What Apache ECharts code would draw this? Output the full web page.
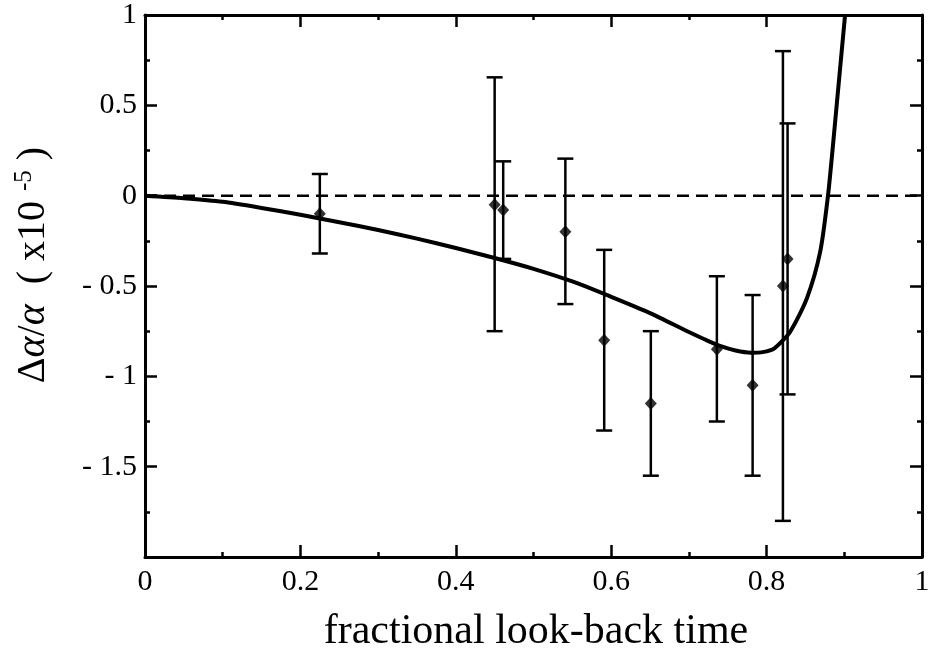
<!DOCTYPE html>
<html>
<head>
<meta charset="utf-8">
<script src="https://cdn.jsdelivr.net/npm/echarts@6/dist/echarts.min.js"></script>
<style>
html,body{margin:0;padding:0;background:#fff;}
#chart{width:933px;height:656px;}
</style>
</head>
<body>
<div id="chart"></div>
<script>
// ---- data ----
const lookback = [0.225, 0.450, 0.461, 0.541, 0.591, 0.651, 0.736, 0.782, 0.821, 0.827];
const dAlpha   = [-0.10, -0.05, -0.08, -0.20, -0.80, -1.15, -0.85, -1.05, -0.50, -0.35];
const errLow   = [-0.32, -0.75, -0.35, -0.60, -1.30, -1.55, -1.25, -1.55, -1.80, -1.10];
const errHigh  = [0.12, 0.655, 0.19, 0.205, -0.30, -0.75, -0.446, -0.55, 0.80, 0.40];

const curveX = [0, 0.05, 0.1, 0.15, 0.2, 0.25, 0.3, 0.35, 0.4, 0.45, 0.5, 0.55, 0.6, 0.65, 0.7, 0.72, 0.74, 0.76, 0.78, 0.795, 0.81, 0.83, 0.852, 0.869, 0.879, 0.885, 0.8906, 0.901];
const curveY = [0, -0.014, -0.034, -0.068, -0.106, -0.147, -0.19, -0.238, -0.29, -0.345, -0.405, -0.475, -0.56, -0.65, -0.755, -0.795, -0.832, -0.857, -0.869, -0.866, -0.845, -0.755, -0.566, -0.31, 0, 0.26, 0.52, 1.0];

const zeroLineX = [0, 1];
const zeroLineY = [0, 0];

const xTickLabels = {0: '0', 0.2: '0.2', 0.4: '0.4', 0.6: '0.6', 0.8: '0.8', 1: '1'};
const yTickLabels = {1: '1', 0.5: '0.5', 0: '0', '-0.5': '- 0.5', '-1': '- 1', '-1.5': '- 1.5'};

const xTitle = 'fractional look-back time';

// ---- chart ----
const FONT = "'Liberation Serif', 'DejaVu Serif', serif";
const chart = echarts.init(document.getElementById('chart'), null, {renderer: 'canvas'});

const axisCommon = {
  axisLine: {show: true, onZero: false, lineStyle: {color: '#000', width: 3}},
  axisTick: {show: true, inside: true, length: 12, lineStyle: {color: '#000', width: 2.5}},
  minorTick: {show: true, splitNumber: 2, length: 5, lineStyle: {color: '#000', width: 2.5}},
  splitLine: {show: false},
  minorSplitLine: {show: false}
};

function xFmt(v) {
  const k = Math.round(v * 10) / 10;
  return xTickLabels[k] !== undefined ? xTickLabels[k] : '';
}
function yFmt(v) {
  const k = String(Math.round(v * 10) / 10);
  return yTickLabels[k] !== undefined ? yTickLabels[k] : '';
}

const pts = lookback.map((x, i) => [x, dAlpha[i]]);
const bars = lookback.map((x, i) => [x, errLow[i], errHigh[i]]);

const option = {
  backgroundColor: '#fff',
  animation: false,
  grid: {left: 145, right: 11, top: 13, bottom: 99, containLabel: false},
  xAxis: [
    Object.assign({
      type: 'value', min: 0, max: 1, interval: 0.2, position: 'bottom',
      axisLabel: {show: true, margin: 10, color: '#000', fontSize: 30, fontFamily: FONT, formatter: xFmt}
    }, axisCommon),
    Object.assign({
      type: 'value', min: 0, max: 1, interval: 0.2, position: 'top',
      axisLabel: {show: false}
    }, axisCommon)
  ],
  yAxis: [
    Object.assign({
      type: 'value', min: -2, max: 1, interval: 0.5, position: 'left',
      axisLabel: {show: true, margin: 8, color: '#000', fontSize: 30, fontFamily: FONT, formatter: yFmt}
    }, axisCommon),
    Object.assign({
      type: 'value', min: -2, max: 1, interval: 0.5, position: 'right',
      axisLabel: {show: false}
    }, axisCommon)
  ],
  series: [
    {
      type: 'line',
      data: zeroLineX.map((x, i) => [x, zeroLineY[i]]),
      showSymbol: false, symbol: 'none',
      lineStyle: {color: '#000', width: 2.5, type: [12, 7]},
      z: 1
    },
    {
      type: 'line',
      data: curveX.map((x, i) => [x, curveY[i]]),
      showSymbol: false, symbol: 'none', smooth: 0.25, clip: true,
      lineStyle: {color: '#000', width: 4},
      z: 3
    },
    {
      type: 'custom',
      data: bars,
      z: 4,
      renderItem: function (params, api) {
        const x = api.value(0);
        const lo = api.coord([x, api.value(1)]);
        const hi = api.coord([x, api.value(2)]);
        const hw = 8;
        const st = {stroke: '#000', lineWidth: 2.5};
        return {
          type: 'group',
          children: [
            {type: 'line', shape: {x1: lo[0], y1: lo[1], x2: hi[0], y2: hi[1]}, style: st},
            {type: 'line', shape: {x1: lo[0] - hw, y1: lo[1], x2: lo[0] + hw, y2: lo[1]}, style: st},
            {type: 'line', shape: {x1: hi[0] - hw, y1: hi[1], x2: hi[0] + hw, y2: hi[1]}, style: st}
          ]
        };
      }
    },
    {
      type: 'scatter',
      data: pts,
      symbol: 'diamond',
      symbolSize: [12, 13],
      itemStyle: {color: '#000'},
      z: 5
    }
  ],
  graphic: [
    {
      type: 'text',
      x: 536, y: 632,
      style: {
        text: xTitle,
        fontSize: 42, fontFamily: FONT, fill: '#000',
        align: 'center', verticalAlign: 'middle'
      },
      z: 10
    },
    {
      type: 'text',
      x: 33, y: 265,
      rotation: Math.PI / 2,
      style: {
        text: '{n|Δ}{a|α}{n|/}{a|α}{n|  ( x10 }{s|-5}{n| )}',
        align: 'center', verticalAlign: 'middle',
        fill: '#000',
        rich: {
          n: {fontSize: 40, fontFamily: FONT, fill: '#000', lineHeight: 42},
          a: {fontSize: 40, fontFamily: FONT, fontStyle: 'italic', fill: '#000', lineHeight: 42},
          s: {fontSize: 25, fontFamily: FONT, fill: '#000', verticalAlign: 'top', lineHeight: 42}
        }
      },
      z: 10
    }
  ]
};
chart.setOption(option);
</script>
</body>
</html>
